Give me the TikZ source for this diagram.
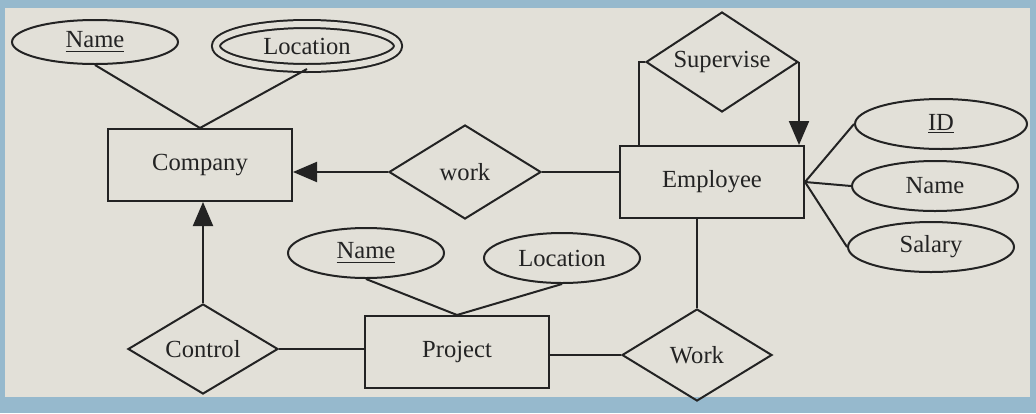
\documentclass[tikz,border=0pt]{standalone}
\usepackage{fontspec}
\setmainfont{Liberation Serif}
\usetikzlibrary{shapes.geometric,arrows.meta,calc}
\definecolor{screen}{RGB}{226,224,216}
\definecolor{frame}{RGB}{150,185,205}
\definecolor{ink}{RGB}{35,35,35}
\tikzstyle{entity}=[rectangle,draw=ink,line width=1pt,minimum width=92pt,minimum height=36pt,inner sep=0pt]
\tikzstyle{attr}=[ellipse,draw=ink,line width=1pt,minimum width=83pt,minimum height=25pt,inner sep=0pt]
\tikzstyle{multi}=[attr,double=screen,double distance=3pt,minimum width=91pt,minimum height=22pt]
\tikzstyle{rel}=[diamond,draw=ink,line width=1pt,aspect=1.6,minimum width=76pt,minimum height=47pt,inner sep=0pt]
\tikzstyle{link}=[draw=ink,line width=1pt]

\begin{document}
\begin{tikzpicture}[x=0.5pt,y=-0.5pt,>={Triangle[length=12pt,width=10pt]},
font=\fontsize{12.3}{14}\selectfont,text=ink]
\useasboundingbox (0,0) rectangle (1036,413);
\fill[frame] (0,0) rectangle (1036,413);
\fill[screen] (5,8) rectangle (1030,397);
% attributes and entities
\node[attr,minimum height=22pt] (cname) at (95,42) {\underline{Name}};
\node[multi] (cloc) at (307,46) {Location};
\node[entity] (company) at (200,165) {Company};
\node[rel] (work) at (465,172) {work};
\node[entity] (employee) at (712,182) {Employee};
\node[rel,minimum height=50pt] (supervise) at (722,62) {Supervise};
\node[attr,minimum width=86pt] (id) at (941,124) {\underline{ID}};
\node[attr] (ename) at (935,186) {Name};
\node[attr] (salary) at (931,247) {Salary};
\node[attr,minimum width=78pt] (pname) at (366,253) {\underline{Name}};
\node[attr,minimum width=78pt] (ploc) at (562,258) {Location};
\node[entity] (project) at (457,352) {Project};
\node[rel,minimum width=75pt,minimum height=45pt] (control) at (203,349) {Control};
\node[rel,minimum width=75pt,minimum height=46pt] (works) at (697,355) {Work};
% connectors
\draw[link] (cname.south) -- (company.north);
\draw[link] (cloc.south) -- (company.north);
\draw[link,->] (work.west) -- (work.west -| company.east);
\draw[link] (work.east) -- (work.east -| employee.west);
\draw[link] ([xshift=10pt]employee.north west) |- (supervise.west);
\draw[link,->] (supervise.east) -- (supervise.east |- employee.north);
\draw[link] (employee.east) -- (id.west);
\draw[link] (employee.east) -- (ename.west);
\draw[link] (employee.east) -- (salary.west);
\draw[link] (employee.south -| works.north) -- (works.north);
\draw[link] (works.west) -- (works.west -| project.east);
\draw[link] (control.east) -- (control.east -| project.west);
\draw[link,->] (control.north) -- (control.north |- company.south);
\draw[link] (pname.south) -- (project.north);
\draw[link] (ploc.south) -- (project.north);
\end{tikzpicture}
\end{document}
